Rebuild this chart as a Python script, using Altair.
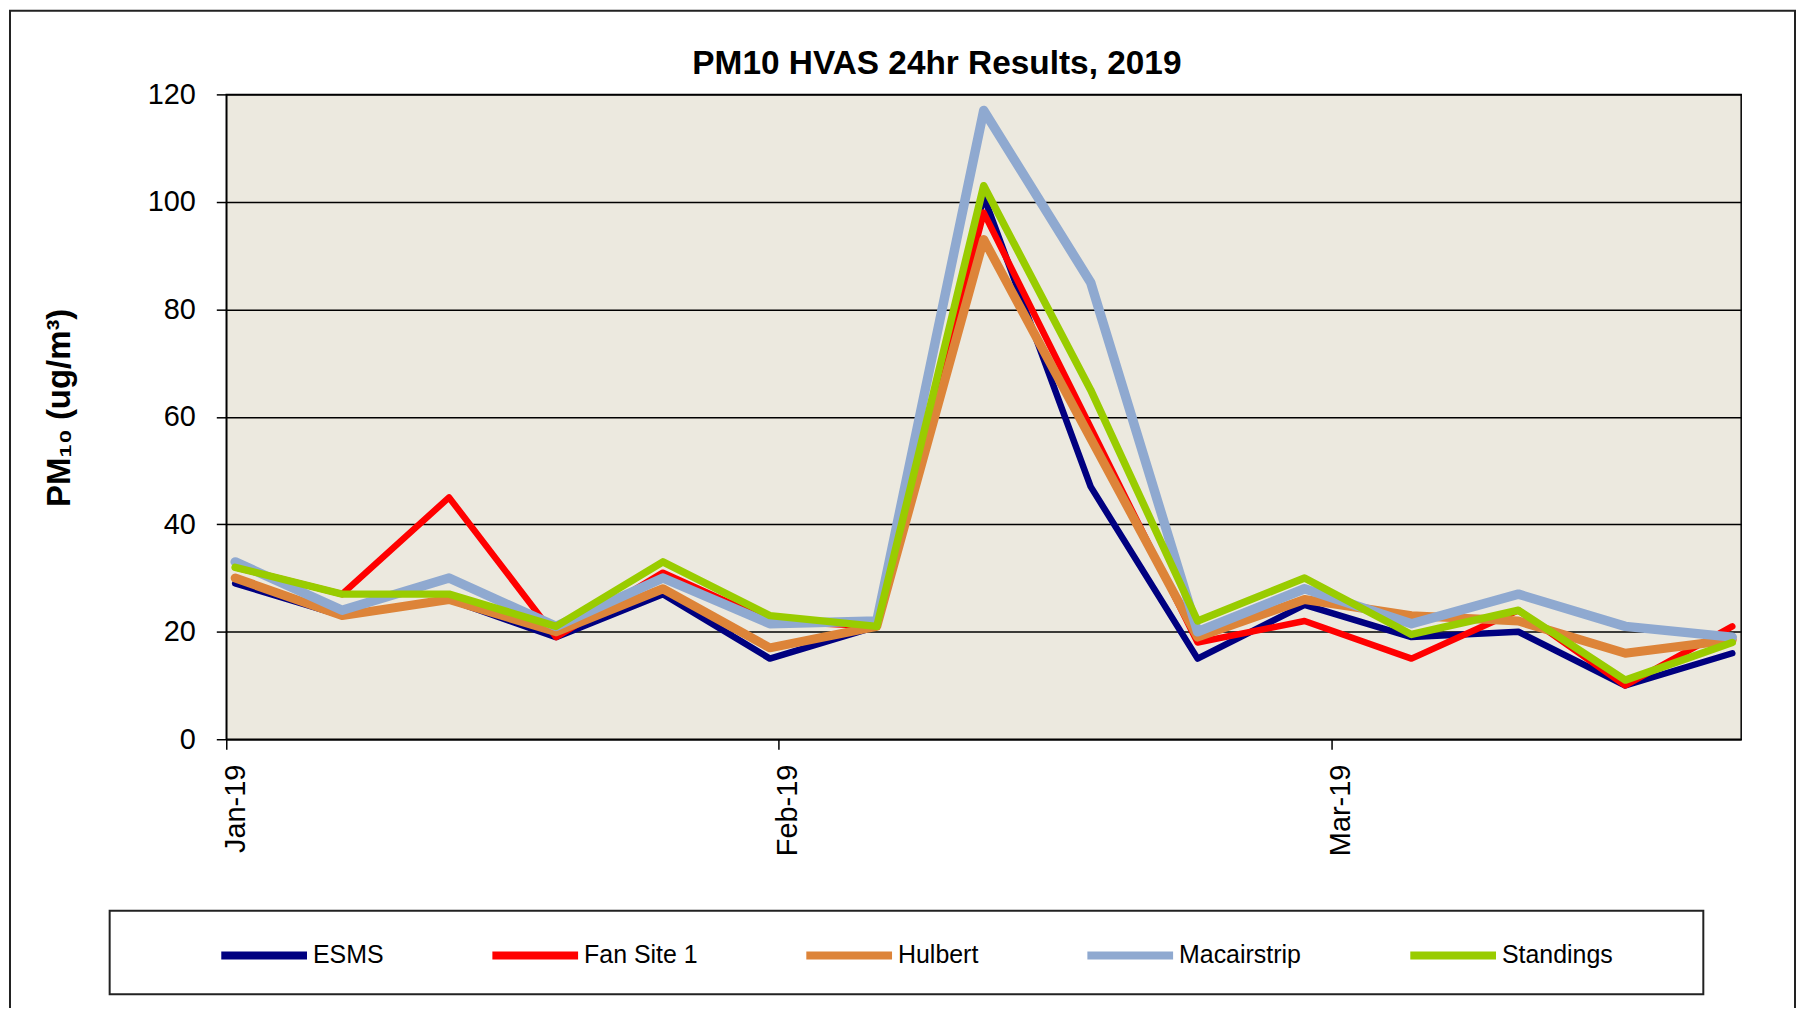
import altair as alt
import pandas as pd

# ---------------- data ----------------
dates = ["2019-01-01", "2019-01-07", "2019-01-13", "2019-01-19", "2019-01-25",
         "2019-01-31", "2019-02-06", "2019-02-12", "2019-02-18", "2019-02-24",
         "2019-03-02", "2019-03-08", "2019-03-14", "2019-03-20", "2019-03-26"]

esms        = [29, 23, 26, 19, 27, 15, 21, 101, 47, 15, 25, 19, 20, 10, 16]
fan_site_1  = [32, 27, 45, 19, 31, 22, 21, 98, 58, 18, 22, 15, 24, 10, 21]
hulbert     = [30, 23, 26, 20, 28, 17, 21, 93, 56, 19, 26, 23, 22, 16, 18.5]
macairstrip = [33, 24, 30, 21, 30, 21.5, 22, 117, 85, 20, 28, 21.5, 27, 21, 19]
standings   = [32, 27, 27, 21, 33, 23, 21, 103, 65, 22, 30, 19.5, 24, 11, 18]

series_names = ["ESMS", "Fan Site 1", "Hulbert", "Macairstrip", "Standings"]
series_values = [esms, fan_site_1, hulbert, macairstrip, standings]
series_colors = ["#000080", "#FF0000", "#DD8439", "#8FA9D0", "#99CC00"]
series_widths = [6.5, 6.5, 9, 9.5, 7.5]

tick_dates = ["2019-01-01", "2019-02-01", "2019-03-04"]
tick_labels = ["Jan-19", "Feb-19", "Mar-19"]
y_ticks = [0, 20, 40, 60, 80, 100, 120]

START = "2019-01-01"
rows = []
for name, vals in zip(series_names, series_values):
    for d, v in zip(dates, vals):
        rows.append({"date": d, "series": name, "pm10": v})
df = pd.DataFrame(rows)

tick_days = [int((pd.Timestamp(t) - pd.Timestamp(START)).days) for t in tick_dates]
label_expr = "[" + ",".join("'%s'" % t for t in tick_labels) + "][indexof([" + \
    ",".join(str(t) for t in tick_days) + "], datum.value)]"
width_expr = "[" + ",".join(str(w) for w in series_widths) + "][indexof([" + \
    ",".join("'%s'" % n for n in series_names) + "], datum.series)]"

FONT = "'Liberation Sans', Arial, sans-serif"

PLOT_W, PLOT_H = 1520, 647

legend = alt.Legend(
    title=None, orient="none", legendX=-9, legendY=817, direction="horizontal",
    columns=5, symbolType="stroke", symbolSize=7396, symbolStrokeWidth=8,
    labelFont=FONT, labelFontSize=25, labelColor="black", labelOffset=2,
    columnPadding=93, padding=0, labelLimit=300,
)

lines = alt.Chart(df).transform_calculate(
    day="(toDate(datum.date) - toDate('" + START + "')) / 86400000 + 0.5",
    sw=width_expr,
).mark_line(strokeCap="round", strokeJoin="round", clip=True).encode(
    x=alt.X("day:Q",
            scale=alt.Scale(domain=[0, 85], nice=False, zero=False),
            axis=alt.Axis(values=tick_days, labelExpr=label_expr, title=None,
                          labelAngle=270, labelAlign="right", labelBaseline="middle",
                          labelFont=FONT, labelFontSize=29, labelColor="black",
                          labelPadding=15, labelOffset=9, labelFlush=False,
                          labelOverlap=False, tickSize=10, tickColor="black",
                          tickWidth=1.5, domainColor="black", domainWidth=1.5,
                          grid=False)),
    y=alt.Y("pm10:Q",
            scale=alt.Scale(domain=[0, 120], nice=False),
            axis=alt.Axis(values=y_ticks, format="d", title="PM₁₀ (ug/m³)",
                          titleFont=FONT, titleFontWeight="bold", titleFontSize=33,
                          titleColor="black", titleAngle=270, titleX=-157, titleY=314,
                          titleAlign="center", titleBaseline="alphabetic",
                          labelFont=FONT, labelFontSize=29, labelColor="black",
                          labelPadding=21, tickSize=10, tickColor="black",
                          tickWidth=1.5, domainColor="black", domainWidth=1.5,
                          grid=True, gridColor="black", gridWidth=1.5)),
    color=alt.Color("series:N", sort=series_names,
                    scale=alt.Scale(domain=series_names, range=series_colors),
                    legend=legend),
    strokeWidth=alt.StrokeWidth("sw:Q", scale=None, legend=None),
    detail="series:N",
)

one = alt.Data(values=[{"k": 0}])
legend_box = alt.Chart(one).mark_rect(
    fill="transparent", stroke="#222222", strokeWidth=2
).encode(x=alt.value(-117), x2=alt.value(1482), y=alt.value(819), y2=alt.value(903))

outer_box = alt.Chart(one).mark_rect(
    fill="transparent", stroke="#222222", strokeWidth=2
).encode(x=alt.value(-217), x2=alt.value(1574), y=alt.value(-84), y2=alt.value(1000))

chart = alt.layer(outer_box, lines, legend_box).properties(
    width=PLOT_W, height=PLOT_H,
    autosize=alt.AutoSizeParams(type="none"),
    padding={"left": 219, "top": 85, "right": 56, "bottom": 268},
    background="white",
    title=alt.TitleParams("PM10 HVAS 24hr Results, 2019", font=FONT, fontSize=33.5,
                          fontWeight="bold", color="black", anchor="middle",
                          dx=-47, offset=-98, baseline="alphabetic", frame="group"),
).configure_view(fill="#ECE9DF", stroke="black", strokeWidth=1.5)

chart.save("out.html", embed_options={"renderer": "svg", "actions": False})
